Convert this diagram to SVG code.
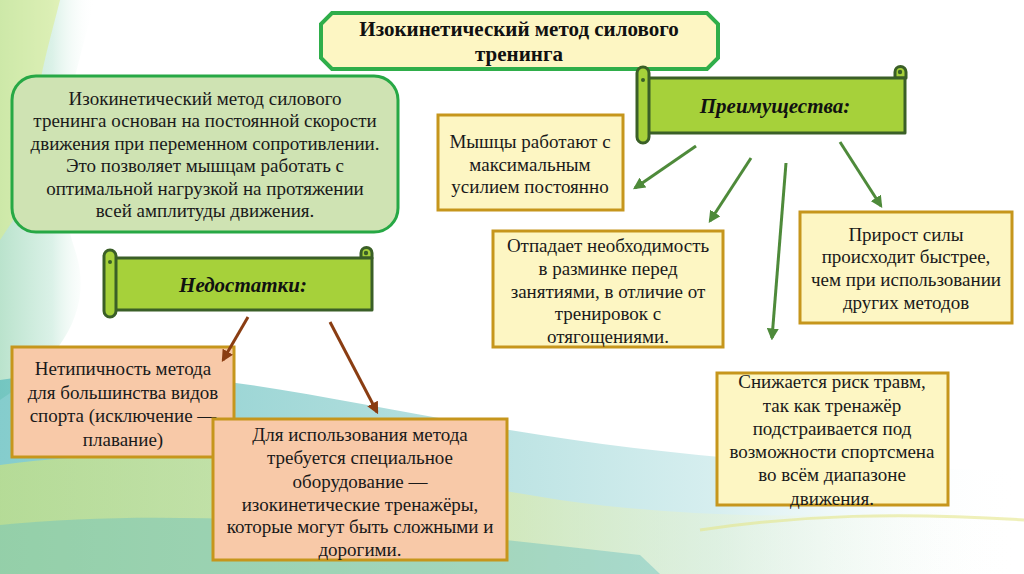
<svg xmlns="http://www.w3.org/2000/svg" width="1024" height="574" viewBox="0 0 1024 574">
<defs>
<linearGradient id="bgL" x1="0" y1="0" x2="1" y2="0">
<stop offset="0" stop-color="#a9dcc0"/><stop offset="0.55" stop-color="#d2eee2"/><stop offset="1" stop-color="#ffffff" stop-opacity="0"/>
</linearGradient>
<linearGradient id="bgB" x1="0" y1="0" x2="1" y2="0">
<stop offset="0" stop-color="#5cbcbc"/><stop offset="0.35" stop-color="#8fd0cf"/><stop offset="0.7" stop-color="#c9e9ea"/><stop offset="1" stop-color="#ffffff" stop-opacity="0"/>
</linearGradient>
<linearGradient id="bgY" x1="0" y1="0" x2="1" y2="0">
<stop offset="0" stop-color="#cfe37a"/><stop offset="0.5" stop-color="#dcebaa"/><stop offset="1" stop-color="#ffffff" stop-opacity="0"/>
</linearGradient>
<marker id="ag" viewBox="0 0 10 10" refX="8" refY="5" markerWidth="4" markerHeight="4" orient="auto"><path d="M0,0 L10,5 L0,10 z" fill="#4e8a3a"/></marker>
<marker id="ab" viewBox="0 0 10 10" refX="8" refY="5" markerWidth="4" markerHeight="4" orient="auto"><path d="M0,0 L10,5 L0,10 z" fill="#8a3d12"/></marker>
<style>
.t{font-family:"Liberation Serif","Times New Roman","DejaVu Serif",serif;font-size:19px;fill:#1a1a1a;text-anchor:middle}
.tb{font-family:"Liberation Serif","Times New Roman","DejaVu Serif",serif;font-size:21px;font-weight:bold;fill:#111;text-anchor:middle}
.ti{font-family:"Liberation Serif","Times New Roman","DejaVu Serif",serif;font-size:21px;font-weight:bold;font-style:italic;fill:#111;text-anchor:middle}
.yb{fill:#fdf6c3;stroke:#c6961c;stroke-width:3}
.sb{fill:#f8c9a8;stroke:#c6961c;stroke-width:3}
.scr{fill:#a6d13a;stroke:#3a5f27;stroke-width:3;stroke-linejoin:round}
.ga{stroke:#4e8a3a;stroke-width:3;fill:none;marker-end:url(#ag)}
.ba{stroke:#8a3d12;stroke-width:3;fill:none;marker-end:url(#ab)}
</style>
</defs>
<rect width="1024" height="574" fill="#ffffff"/>
<g id="background">
<path d="M0,0 L95,0 C75,80 45,160 75,250 C95,310 60,360 0,400 Z" fill="url(#bgL)" opacity="0.8"/>
<path d="M0,0 L60,0 C45,60 25,120 40,180 L0,240 Z" fill="#dcec8a" opacity="0.55"/>
<path d="M0,380 C150,355 300,395 480,425 C650,455 820,470 1024,470 L1024,574 L0,574 Z" fill="url(#bgB)" opacity="0.75"/>
<path d="M0,465 C180,440 380,470 560,500 C700,520 860,520 1024,505 L1024,574 L0,574 Z" fill="url(#bgY)" opacity="0.65"/>
<path d="M0,525 C200,505 420,530 640,555 L660,574 L0,574 Z" fill="#6cc2bf" opacity="0.45"/>
<path d="M700,530 C800,515 900,512 1024,520" fill="none" stroke="#e5e68a" stroke-width="3" opacity="0.6"/>
</g>
<g id="title">
<path d="M332,13 L707,13 L718,24 L718,58 L707,69 L332,69 L321,58 L321,24 Z" fill="#fdf6c3" stroke="#2fae4a" stroke-width="4"/>
<text class="tb" x="519" y="36">Изокинетический метод силового</text>
<text class="tb" x="519" y="61">тренинга</text>
</g>
<g id="description">
<rect x="12" y="76" width="386" height="156" rx="24" fill="#cfe3b3" stroke="#27a845" stroke-width="3"/>
<text class="t" x="205" y="105">Изокинетический метод силового</text>
<text class="t" x="205" y="127">тренинга основан на постоянной скорости</text>
<text class="t" x="205" y="150">движения при переменном сопротивлении.</text>
<text class="t" x="205" y="172">Это позволяет мышцам работать с</text>
<text class="t" x="205" y="195">оптимальной нагрузкой на протяжении</text>
<text class="t" x="205" y="217">всей амплитуды движения.</text>
</g>
<g id="advantages">
<path class="scr" d="M895,78 L895,72 A5.5,5.5 0 0 1 906,72 L906,78 Z"/>
<rect class="scr" x="646" y="78" width="259" height="55"/>
<path class="scr" d="M649,73 L649,137 A6,6 0 0 1 637,137 L637,73 A6,6 0 0 1 649,73 Z"/>
<circle cx="900" cy="72" r="2.2" fill="#3a5f27"/>
<circle cx="643" cy="80" r="2" fill="#3a5f27"/>
<text class="ti" x="775" y="113">Преимущества:</text>
</g>
<g id="disadvantages">
<path class="scr" d="M361,258 L361,253 A5.5,5.5 0 0 1 372,253 L372,258 Z"/>
<rect class="scr" x="113" y="258" width="259" height="52"/>
<path class="scr" d="M116,256 L116,311 A6,6 0 0 1 104,311 L104,256 A6,6 0 0 1 116,256 Z"/>
<circle cx="366" cy="253" r="2.2" fill="#3a5f27"/>
<circle cx="110" cy="262" r="2" fill="#3a5f27"/>
<text class="ti" x="243" y="292">Недостатки:</text>
</g>
<g id="adv1">
<rect class="yb" x="438" y="115" width="185" height="95"/>
<text class="t" x="530" y="148">Мышцы работают с</text>
<text class="t" x="530" y="171">максимальным</text>
<text class="t" x="530" y="193">усилием постоянно</text>
</g>
<g id="adv2">
<rect class="yb" x="493" y="231" width="230" height="116"/>
<text class="t" x="608" y="252">Отпадает необходимость</text>
<text class="t" x="608" y="275">в разминке перед</text>
<text class="t" x="608" y="298">занятиями, в отличие от</text>
<text class="t" x="608" y="320">тренировок с</text>
<text class="t" x="608" y="343">отягощениями.</text>
</g>
<g id="adv3">
<rect class="yb" x="800" y="212" width="212" height="111"/>
<text class="t" x="906" y="241">Прирост силы</text>
<text class="t" x="906" y="263">происходит быстрее,</text>
<text class="t" x="906" y="286">чем при использовании</text>
<text class="t" x="906" y="309">других методов</text>
</g>
<g id="adv4">
<rect class="yb" x="717" y="373" width="231" height="132"/>
<text class="t" x="832" y="388">Снижается риск травм,</text>
<text class="t" x="832" y="412">так как тренажёр</text>
<text class="t" x="832" y="435">подстраивается под</text>
<text class="t" x="832" y="458">возможности спортсмена</text>
<text class="t" x="832" y="481">во всём диапазоне</text>
<text class="t" x="832" y="505">движения.</text>
</g>
<g id="dis1">
<rect class="sb" x="12" y="347" width="222" height="110"/>
<text class="t" x="123" y="375">Нетипичность метода</text>
<text class="t" x="123" y="399">для большинства видов</text>
<text class="t" x="123" y="422">спорта (исключение —</text>
<text class="t" x="123" y="446">плавание)</text>
</g>
<g id="dis2">
<rect class="sb" x="213" y="419" width="294" height="141"/>
<text class="t" x="360" y="441">Для использования метода</text>
<text class="t" x="360" y="464">требуется специальное</text>
<text class="t" x="360" y="488">оборудование —</text>
<text class="t" x="360" y="511">изокинетические тренажёры,</text>
<text class="t" x="360" y="533">которые могут быть сложными и</text>
<text class="t" x="360" y="556">дорогими.</text>
</g>
<g id="connectors">
<line class="ga" x1="696" y1="146" x2="635" y2="188"/>
<line class="ga" x1="751" y1="158" x2="710" y2="221"/>
<line class="ga" x1="786" y1="163" x2="772" y2="338"/>
<line class="ga" x1="840" y1="142" x2="881" y2="206"/>
<line class="ba" x1="248" y1="317" x2="223" y2="360"/>
<line class="ba" x1="330" y1="322" x2="377" y2="412"/>
</g>
</svg>
